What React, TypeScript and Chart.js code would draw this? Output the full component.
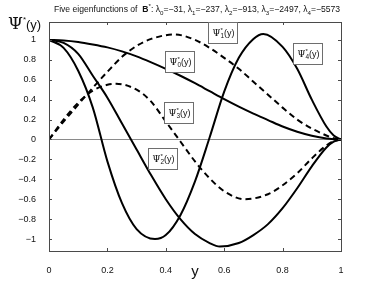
import React, { useEffect, useRef } from "react";
import { Chart, registerables } from "chart.js";

Chart.register(...registerables);

const x0 = [0, 0.05, 0.1, 0.15, 0.2, 0.25, 0.3, 0.35, 0.4, 0.45, 0.5, 0.55, 0.6, 0.65, 0.7, 0.75, 0.8, 0.85, 0.9, 0.95, 0.975, 1];
const psi0 = [1, 0.995, 0.98, 0.955, 0.925, 0.885, 0.835, 0.775, 0.71, 0.64, 0.565, 0.485, 0.405, 0.33, 0.26, 0.195, 0.13, 0.078, 0.038, 0.01, 0.003, 0];

const x1 = [0, 0.05, 0.1, 0.15, 0.2, 0.25, 0.3, 0.35, 0.43, 0.5, 0.55, 0.6, 0.65, 0.7, 0.75, 0.8, 0.85, 0.9, 0.95, 0.975, 1];
const psi1 = [0, 0.18, 0.35, 0.52, 0.68, 0.83, 0.94, 1.01, 1.055, 1.0, 0.92, 0.82, 0.71, 0.58, 0.45, 0.32, 0.2, 0.11, 0.04, 0.012, 0];

const x2 = [0, 0.05, 0.1, 0.15, 0.2, 0.25, 0.3, 0.35, 0.4, 0.45, 0.5, 0.55, 0.585, 0.65, 0.7, 0.75, 0.8, 0.85, 0.9, 0.95, 0.975, 1];
const psi2 = [1, 0.97, 0.86, 0.64, 0.42, 0.16, -0.1, -0.36, -0.6, -0.8, -0.95, -1.04, -1.075, -1.04, -0.96, -0.85, -0.69, -0.49, -0.27, -0.08, -0.022, 0];

const x3 = [0, 0.05, 0.1, 0.15, 0.2, 0.23, 0.3, 0.35, 0.4, 0.45, 0.5, 0.55, 0.6, 0.67, 0.75, 0.8, 0.85, 0.9, 0.95, 0.975, 1];
const psi3 = [0, 0.2, 0.37, 0.49, 0.55, 0.56, 0.5, 0.38, 0.18, -0.02, -0.22, -0.39, -0.52, -0.6, -0.55, -0.46, -0.34, -0.19, -0.06, -0.017, 0];

const x4 = [0, 0.05, 0.1, 0.15, 0.2, 0.25, 0.3, 0.363, 0.4, 0.45, 0.5, 0.55, 0.6, 0.65, 0.7, 0.734, 0.8, 0.85, 0.9, 0.95, 0.975, 1];
const psi4 = [1, 0.92, 0.69, 0.32, -0.22, -0.64, -0.9, -1.0, -0.96, -0.76, -0.42, 0.02, 0.48, 0.82, 1.01, 1.06, 0.93, 0.71, 0.4, 0.13, 0.04, 0];

const xTicks = [0, 0.2, 0.4, 0.6, 0.8, 1];
const yTicks = [-1, -0.8, -0.6, -0.4, -0.2, 0, 0.2, 0.4, 0.6, 0.8, 1];
const lambdas = ["−31", "−237", "−913", "−2497", "−5573"];

const series = [
  { name: "0", xs: x0, data: psi0, dashed: false },
  { name: "1", xs: x1, data: psi1, dashed: true },
  { name: "2", xs: x2, data: psi2, dashed: false },
  { name: "3", xs: x3, data: psi3, dashed: true },
  { name: "4", xs: x4, data: psi4, dashed: false },
];

// label boxes anchored at (left, top) in data coordinates
const labelBoxes = [
  { idx: "1", x: 0.545, y: 1.175 },
  { idx: "4", x: 0.836, y: 0.965 },
  { idx: "0", x: 0.397, y: 0.885 },
  { idx: "3", x: 0.394, y: 0.375 },
  { idx: "2", x: 0.339, y: -0.085 },
];

const SANS = "'Liberation Sans', Arial, Helvetica, sans-serif";
const SERIF = "'DejaVu Serif', 'Liberation Serif', serif";

type Part = { t: string; font: string; dy: number };

function drawParts(ctx: CanvasRenderingContext2D, parts: Part[], x: number, y: number, align: "left" | "center") {
  let total = 0;
  for (const p of parts) {
    ctx.font = p.font;
    total += ctx.measureText(p.t).width;
  }
  let cx = align === "center" ? x - total / 2 : x;
  ctx.textBaseline = "alphabetic";
  ctx.textAlign = "left";
  for (const p of parts) {
    ctx.font = p.font;
    ctx.fillText(p.t, cx, y + p.dy);
    cx += ctx.measureText(p.t).width;
  }
  return total;
}

const decor = {
  id: "decor",
  beforeDatasetsDraw(chart: any) {
    const { ctx, chartArea: a, scales } = chart;
    const y0 = scales.y.getPixelForValue(0);
    ctx.save();
    ctx.strokeStyle = "#8a8a8a";
    ctx.lineWidth = 1;
    ctx.beginPath();
    ctx.moveTo(a.left, Math.round(y0) + 0.5);
    ctx.lineTo(a.right, Math.round(y0) + 0.5);
    ctx.stroke();
    ctx.restore();
  },
  afterDraw(chart: any) {
    const { ctx, chartArea: a, scales } = chart;
    const sx = scales.x;
    const sy = scales.y;
    ctx.save();
    // axes box
    ctx.strokeStyle = "#4a4a4a";
    ctx.lineWidth = 1;
    ctx.strokeRect(a.left + 0.5, a.top + 0.5, a.right - a.left, a.bottom - a.top);
    // inward ticks
    const tl = 3;
    ctx.beginPath();
    for (const v of xTicks) {
      const px = Math.round(sx.getPixelForValue(v)) + 0.5;
      ctx.moveTo(px, a.bottom);
      ctx.lineTo(px, a.bottom - tl);
      ctx.moveTo(px, a.top);
      ctx.lineTo(px, a.top + tl);
    }
    for (const v of yTicks) {
      const py = Math.round(sy.getPixelForValue(v)) + 0.5;
      ctx.moveTo(a.left, py);
      ctx.lineTo(a.left + tl, py);
      ctx.moveTo(a.right, py);
      ctx.lineTo(a.right - tl, py);
    }
    ctx.stroke();

    // label boxes
    for (const b of labelBoxes) {
      const bx = Math.round(sx.getPixelForValue(b.x)) + 0.5;
      const by = Math.round(sy.getPixelForValue(b.y)) + 0.5;
      const w = 29;
      const h = 21;
      ctx.fillStyle = "#ffffff";
      ctx.fillRect(bx, by, w, h);
      ctx.strokeStyle = "#6e6e6e";
      ctx.strokeRect(bx, by, w, h);
      ctx.fillStyle = "#111";
      drawParts(
        ctx,
        [
          { t: "Ψ", font: `9px ${SERIF}`, dy: 0 },
          { t: "*", font: `6px ${SANS}`, dy: -4 },
        ],
        bx + 4,
        by + 13,
        "left"
      );
      ctx.font = `9px ${SERIF}`;
      const wPsi = ctx.measureText("Ψ").width;
      drawParts(ctx, [{ t: b.idx, font: `6.5px ${SANS}`, dy: 0 }], bx + 4 + wPsi, by + 15, "left");
      ctx.font = `6.5px ${SANS}`;
      const wSub = ctx.measureText(b.idx).width;
      drawParts(ctx, [{ t: "(y)", font: `9px ${SANS}`, dy: 0 }], bx + 4 + wPsi + wSub, by + 13, "left");
    }

    // title
    ctx.fillStyle = "#111";
    const fs = 8.6;
    const n = `${fs}px ${SANS}`;
    const sub = `${fs * 0.72}px ${SANS}`;
    const parts: Part[] = [
      { t: "Five eigenfunctions of  ", font: n, dy: 0 },
      { t: "B", font: `bold ${fs}px ${SANS}`, dy: 0 },
      { t: "*", font: sub, dy: -4 },
      { t: ": ", font: n, dy: 0 },
    ];
    lambdas.forEach((l, i) => {
      parts.push({ t: "λ", font: n, dy: 0 });
      parts.push({ t: String(i), font: sub, dy: 2.5 });
      parts.push({ t: "=" + l + (i < lambdas.length - 1 ? ", " : ""), font: n, dy: 0 });
    });
    drawParts(ctx, parts, (a.left + a.right) / 2 + 2, 12, "center");

    // y label
    drawParts(
      ctx,
      [
        { t: "Ψ", font: `17px ${SERIF}`, dy: 0 },
        { t: "*", font: `8px ${SANS}`, dy: -7 },
        { t: "(y)", font: `13px ${SANS}`, dy: 0 },
      ],
      8,
      29,
      "left"
    );
    // x label
    ctx.font = `15px ${SANS}`;
    ctx.textAlign = "center";
    ctx.fillText("y", (a.left + a.right) / 2, 276);
    ctx.restore();
  },
};

function fmt(v: number) {
  const s = String(Math.round(v * 10) / 10);
  return s.replace("-", "−");
}

export default function App() {
  const ref = useRef<HTMLCanvasElement>(null);
  useEffect(() => {
    if (!ref.current) return;
    const chart = new Chart(ref.current, {
      type: "line",
      data: {
        datasets: series.map((s) => ({
          label: "Ψ" + s.name,
          data: s.xs.map((x, i) => ({ x, y: s.data[i] })),
          borderColor: "#000",
          borderWidth: 2,
          borderDash: s.dashed ? [6, 4] : [],
          pointRadius: 0,
          fill: false,
          cubicInterpolationMode: "monotone" as const,
        })),
      },
      options: {
        responsive: false,
        animation: false,
        layout: { padding: { left: 0, right: 36, top: 22, bottom: 0 } },
        plugins: { legend: { display: false }, tooltip: { enabled: false }, title: { display: false } },
        scales: {
          x: {
            type: "linear",
            min: 0,
            max: 1,
            grid: { display: false },
            border: { display: false },
            afterBuildTicks: (s: any) => {
              s.ticks = xTicks.map((v) => ({ value: v }));
            },
            afterFit: (s: any) => {
              s.height = 32;
            },
            ticks: {
              padding: 6,
              color: "#111",
              font: { family: SANS, size: 9 },
              maxRotation: 0,
              callback: (v: any) => fmt(Number(v)),
            },
          },
          y: {
            type: "linear",
            min: -1.12,
            max: 1.18,
            grid: { display: false },
            border: { display: false },
            afterBuildTicks: (s: any) => {
              s.ticks = yTicks.map((v) => ({ value: v }));
            },
            afterFit: (s: any) => {
              s.width = 49;
            },
            ticks: {
              padding: 5,
              color: "#111",
              font: { family: SANS, size: 9 },
              callback: (v: any) => fmt(Number(v)),
            },
          },
        },
      },
      plugins: [decor],
    });
    return () => chart.destroy();
  }, []);
  return (
    <div style={{ position: "fixed", left: 0, top: 0, width: 377, height: 283, background: "#fff" }}>
      <canvas ref={ref} width={377} height={283} style={{ width: 377, height: 283, display: "block" }} />
    </div>
  );
}
